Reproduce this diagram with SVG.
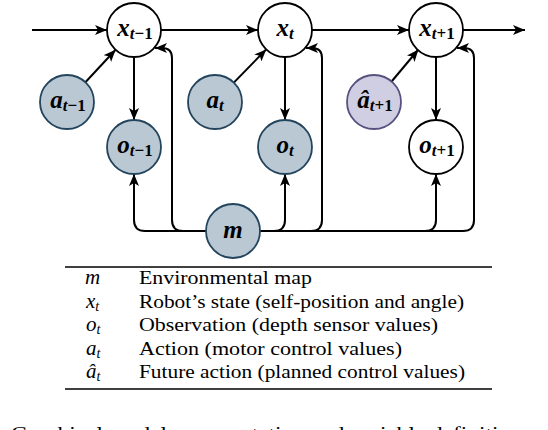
<svg xmlns="http://www.w3.org/2000/svg" width="548" height="430" viewBox="0 0 548 430">
<style>
.edge{fill:none;stroke:#000;stroke-width:2;marker-end:url(#ah)}
.w{fill:#fff;stroke:#000;stroke-width:1.8}
.g{fill:#bac8d3;stroke:#23445d;stroke-width:1.8}
.p{fill:#d0cee2;stroke:#56517e;stroke-width:1.8}
.lbl{font-family:"Liberation Serif",serif;font-style:italic;font-weight:bold;font-size:25px;text-anchor:middle;fill:#000}
.sub{font-size:17px}
.up{font-style:normal}
.sym{font-family:"Liberation Serif",serif;font-style:italic;font-size:21px;fill:#000}
.ss{font-size:14px}
.desc{font-family:"Liberation Serif",serif;font-size:18px;fill:#000}
</style>
<defs>
<marker id="ah" viewBox="0 0 12 10" refX="12" refY="5" markerWidth="12" markerHeight="10" orient="auto" markerUnits="userSpaceOnUse"><path d="M0,0 L12,5 L0,10 L3,5 Z" fill="#000"/></marker>
</defs>
<g id="connectors">
<path class="edge" d="M32,30 H107"/>
<path class="edge" d="M161,30 H258"/>
<path class="edge" d="M312,30 H409"/>
<path class="edge" d="M463,30 H525"/>
<path class="edge" d="M134,57 V120"/>
<path class="edge" d="M285,57 V120"/>
<path class="edge" d="M436,57 V120"/>
<path class="edge" d="M85.4,82.2 L115.6,49.8"/>
<path class="edge" d="M233.8,82.6 L266.2,49.4"/>
<path class="edge" d="M391.6,81.5 L418.4,49.5"/>
<path class="edge" d="M206,231 H145 Q134,231 134,220 V174"/>
<path class="edge" d="M206,231 H183 Q172,231 172,220 V58 Q172,48 162,48 H155"/>
<path class="edge" d="M260,231 H274 Q285,231 285,220 V174"/>
<path class="edge" d="M260,231 H311 Q322,231 322,220 V58 Q322,48 312,48 H306"/>
<path class="edge" d="M260,231 H425 Q436,231 436,220 V174"/>
<path class="edge" d="M260,231 H463 Q474,231 474,220 V58 Q474,48 464,48 H457"/>
</g>
<g id="x_tm1"><circle class="w" cx="134" cy="30" r="27"/><text class="lbl" x="135" y="36">x<tspan class="sub" dy="3">t<tspan class="up">−1</tspan></tspan></text></g>
<g id="x_t"><circle class="w" cx="285" cy="30" r="27"/><text class="lbl" x="285" y="36">x<tspan class="sub" dy="3">t</tspan></text></g>
<g id="x_tp1"><circle class="w" cx="436" cy="30" r="27"/><text class="lbl" x="437" y="36">x<tspan class="sub" dy="3">t<tspan class="up">+1</tspan></tspan></text></g>
<g id="a_tm1"><circle class="g" cx="67" cy="102" r="27"/><text class="lbl" x="68" y="108">a<tspan class="sub" dy="3">t<tspan class="up">−1</tspan></tspan></text></g>
<g id="a_t"><circle class="g" cx="215" cy="102" r="27"/><text class="lbl" x="215" y="108">a<tspan class="sub" dy="3">t</tspan></text></g>
<g id="ahat_tp1"><circle class="p" cx="374" cy="102" r="27"/><text class="lbl" x="375" y="108">â<tspan class="sub" dy="3">t<tspan class="up">+1</tspan></tspan></text></g>
<g id="o_tm1"><circle class="g" cx="134" cy="147" r="27"/><text class="lbl" x="135" y="153">o<tspan class="sub" dy="3">t<tspan class="up">−1</tspan></tspan></text></g>
<g id="o_t"><circle class="g" cx="285" cy="147" r="27"/><text class="lbl" x="285" y="153">o<tspan class="sub" dy="3">t</tspan></text></g>
<g id="o_tp1"><circle class="w" cx="436" cy="147" r="27"/><text class="lbl" x="437" y="153">o<tspan class="sub" dy="3">t<tspan class="up">+1</tspan></tspan></text></g>
<g id="m"><circle class="g" cx="233" cy="231" r="27"/><text class="lbl" x="233" y="238">m</text></g>
<g id="table">
<line x1="65" y1="267" x2="492" y2="267" stroke="#000" stroke-width="1.6"/>
<line x1="65" y1="389" x2="492" y2="389" stroke="#000" stroke-width="1.6"/>
<text class="sym" x="85" y="284">m</text>
<text class="sym" x="86" y="307.5">x<tspan class="ss" dy="3">t</tspan></text>
<text class="sym" x="86" y="331">o<tspan class="ss" dy="3">t</tspan></text>
<text class="sym" x="86" y="354.5">a<tspan class="ss" dy="3">t</tspan></text>
<text class="sym" x="86" y="378">â<tspan class="ss" dy="3">t</tspan></text>
<text class="desc" x="139" y="284" textLength="173" lengthAdjust="spacingAndGlyphs">Environmental map</text>
<text class="desc" x="139" y="307.5" textLength="325" lengthAdjust="spacingAndGlyphs">Robot’s state (self-position and angle)</text>
<text class="desc" x="139" y="331" textLength="299" lengthAdjust="spacingAndGlyphs">Observation (depth sensor values)</text>
<text class="desc" x="139" y="354.5" textLength="263" lengthAdjust="spacingAndGlyphs">Action (motor control values)</text>
<text class="desc" x="139" y="378" textLength="326" lengthAdjust="spacingAndGlyphs">Future action (planned control values)</text>
</g>
<text class="desc" x="11" y="440" textLength="545" lengthAdjust="spacingAndGlyphs">Graphical model representation and variable definitions of</text>
</svg>
